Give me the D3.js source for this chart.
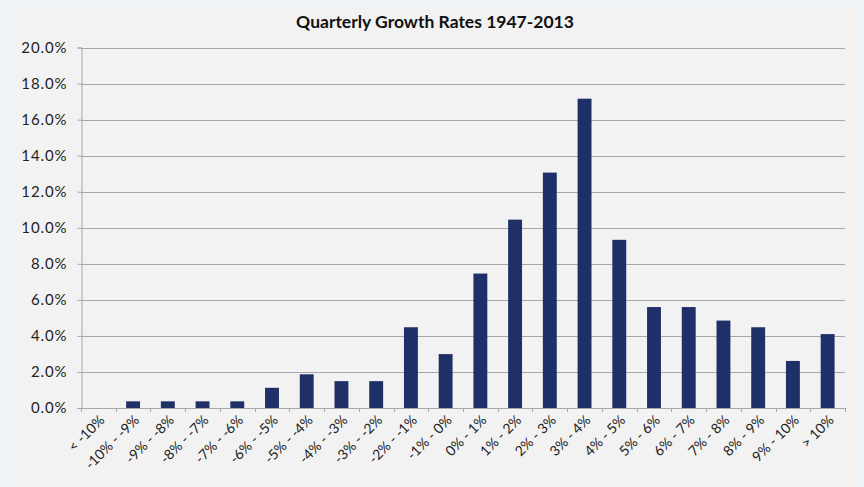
<!DOCTYPE html>
<html>
<head>
<meta charset="utf-8">
<script src="https://cdn.jsdelivr.net/npm/d3@7"></script>
<style>
  html, body { margin: 0; padding: 0; background: #eef4f8; }
  svg { display: block; }
</style>
</head>
<body>
<svg id="chart" width="864" height="487"></svg>
<script>
// Growth-rate buckets (annualized quarterly real GDP growth)
const categories = [
  "< -10%", "-10% - -9%", "-9% - -8%", "-8% - -7%", "-7% - -6%", "-6% - -5%",
  "-5% - -4%", "-4% - -3%", "-3% - -2%", "-2% - -1%", "-1% - 0%", "0% - 1%",
  "1% - 2%", "2% - 3%", "3% - 4%", "4% - 5%", "5% - 6%", "6% - 7%",
  "7% - 8%", "8% - 9%", "9% - 10%", "> 10%"
];
// Share of quarters falling in each bucket, in percent
const shares = [
  0, 0.37, 0.37, 0.37, 0.37, 1.12,
  1.87, 1.49, 1.49, 4.48, 2.99, 7.46,
  10.45, 13.06, 17.16, 9.33, 5.60, 5.60,
  4.85, 4.48, 2.61, 4.10
];
const yTicks = [0, 2, 4, 6, 8, 10, 12, 14, 16, 18, 20];
const title = "Quarterly Growth Rates 1947-2013";

const svg = d3.select("#chart");
const font = "Lato, 'Open Sans', sans-serif";

// chart panel
svg.append("rect")
  .attr("x", 14).attr("y", 7).attr("width", 844).attr("height", 480)
  .attr("fill", "#f2f2f2");

const plot = { left: 81, right: 845, top: 47.5, bottom: 408 };

const x = d3.scaleBand()
  .domain(categories)
  .range([plot.left, plot.right])
  .paddingInner(0.6)
  .paddingOuter(0.3);

const y = d3.scaleLinear()
  .domain([0, 20])
  .range([plot.bottom, plot.top]);

// horizontal gridlines
svg.append("g")
  .selectAll("line")
  .data(yTicks.filter(d => d > 0))
  .join("line")
  .attr("x1", plot.left).attr("x2", plot.right)
  .attr("y1", d => Math.round(y(d)) + 0.5).attr("y2", d => Math.round(y(d)) + 0.5)
  .attr("stroke", "#a6a6a6").attr("stroke-width", 1);

// y axis
const yAxis = svg.append("g")
  .attr("transform", `translate(${plot.left + 0.5},0)`)
  .call(d3.axisLeft(y).tickValues(yTicks).tickSize(4).tickPadding(10)
    .tickFormat(d => d.toFixed(1) + "%"));
yAxis.select(".domain").attr("stroke", "#a6a6a6");
yAxis.selectAll(".tick line").attr("stroke", "#a6a6a6");
yAxis.selectAll(".tick text")
  .attr("font-family", font).attr("font-size", 15).attr("letter-spacing", 0.9)
  .attr("fill", "#222");

// bars
svg.append("g")
  .selectAll("rect")
  .data(shares)
  .join("rect")
  .attr("x", (d, i) => x(categories[i]))
  .attr("y", d => y(d))
  .attr("width", x.bandwidth())
  .attr("height", d => y(0) - y(d))
  .attr("fill", "#1f2f68");

// x axis line and boundary ticks
const step = x.step();
const xAxis = svg.append("g");
xAxis.append("line")
  .attr("x1", plot.left).attr("x2", plot.right)
  .attr("y1", plot.bottom + 0.5).attr("y2", plot.bottom + 0.5)
  .attr("stroke", "#a6a6a6");
xAxis.selectAll(".bt")
  .data(d3.range(categories.length + 1))
  .join("line")
  .attr("class", "bt")
  .attr("x1", i => Math.round(plot.left + i * step) + 0.5)
  .attr("x2", i => Math.round(plot.left + i * step) + 0.5)
  .attr("y1", plot.bottom).attr("y2", plot.bottom + 4)
  .attr("stroke", "#a6a6a6");

// rotated category labels
xAxis.selectAll("text")
  .data(categories)
  .join("text")
  .attr("transform", d => `translate(${x(d) + x.bandwidth() / 2 + 7},${plot.bottom + 13}) rotate(-45)`)
  .attr("text-anchor", "end")
  .attr("font-family", font).attr("font-size", 14).attr("fill", "#222")
  .text(d => d);

// title
svg.append("text")
  .attr("x", 435).attr("y", 28)
  .attr("text-anchor", "middle")
  .attr("font-family", font).attr("font-size", 17.5).attr("font-weight", "bold")
  .attr("fill", "#111")
  .text(title);
</script>
</body>
</html>
